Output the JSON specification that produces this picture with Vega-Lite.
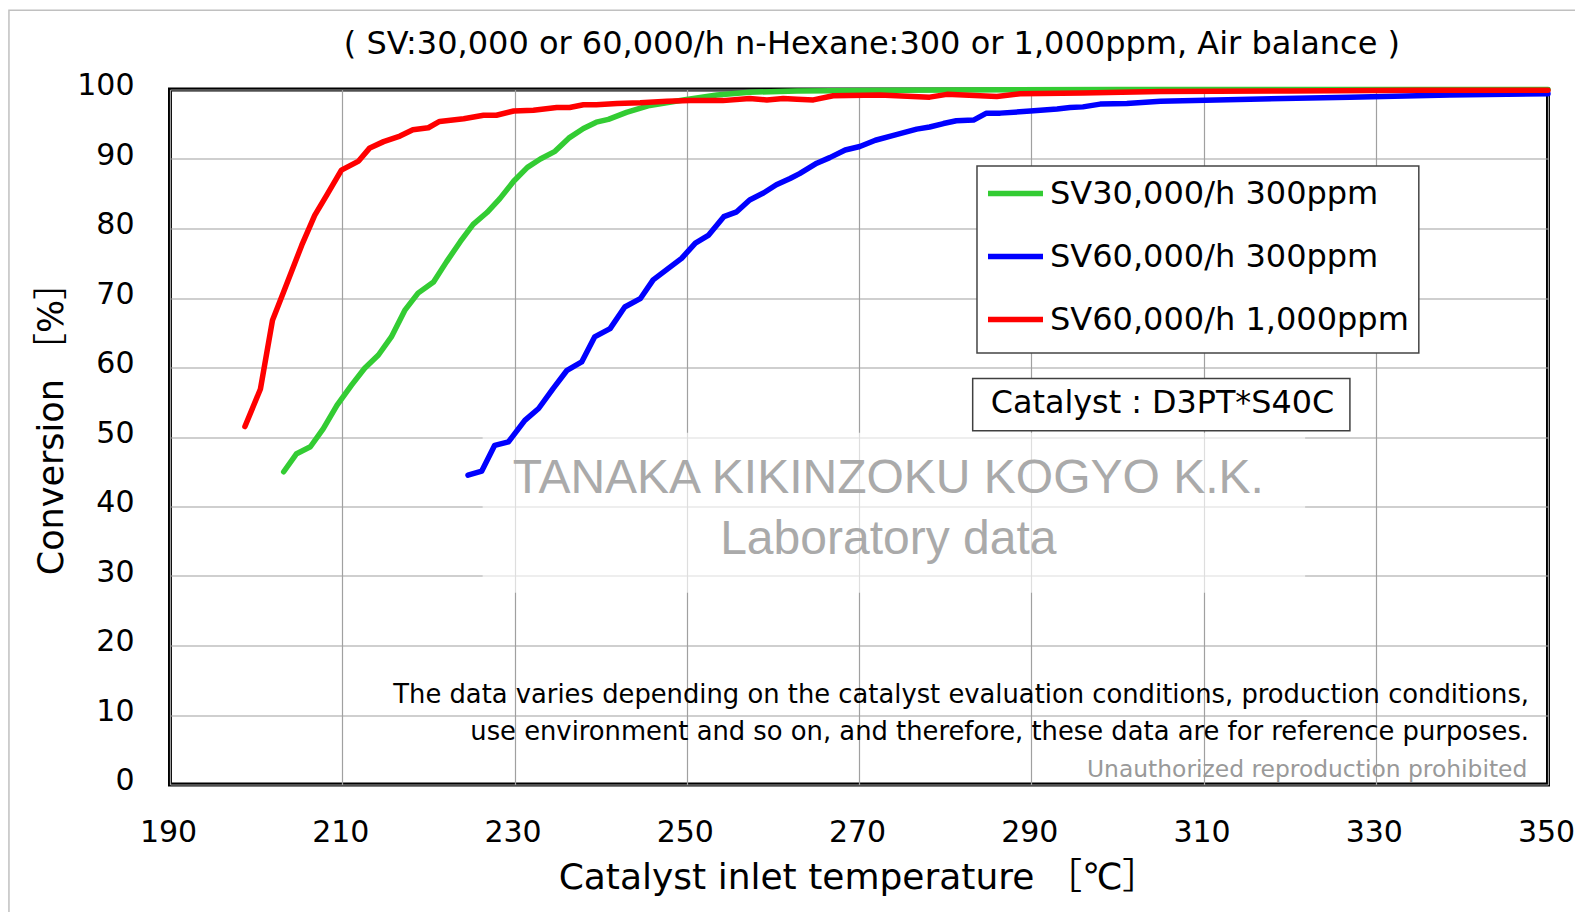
{
  "$schema": "https://vega.github.io/schema/vega-lite/v6.json",
  "width": 1378,
  "height": 695,
  "autosize": {"type": "none"},
  "padding": {"left": 170, "top": 89.5, "right": 27, "bottom": 127.5},
  "background": "white",
  "config": {
    "view": {"stroke": "black", "strokeWidth": 4},
    "font": "DejaVu Sans"
  },
  "datasets": {
    "curves": [
      {"series": "SV30,000/h 300ppm", "temperature": 203.2, "conversion": 45.0},
      {"series": "SV30,000/h 300ppm", "temperature": 204.7, "conversion": 47.6},
      {"series": "SV30,000/h 300ppm", "temperature": 206.3, "conversion": 48.6},
      {"series": "SV30,000/h 300ppm", "temperature": 207.8, "conversion": 51.2},
      {"series": "SV30,000/h 300ppm", "temperature": 209.4, "conversion": 54.6},
      {"series": "SV30,000/h 300ppm", "temperature": 211.1, "conversion": 57.5},
      {"series": "SV30,000/h 300ppm", "temperature": 212.6, "conversion": 59.9},
      {"series": "SV30,000/h 300ppm", "temperature": 214.2, "conversion": 61.8},
      {"series": "SV30,000/h 300ppm", "temperature": 215.7, "conversion": 64.4},
      {"series": "SV30,000/h 300ppm", "temperature": 217.3, "conversion": 68.3},
      {"series": "SV30,000/h 300ppm", "temperature": 218.8, "conversion": 70.7},
      {"series": "SV30,000/h 300ppm", "temperature": 220.6, "conversion": 72.3},
      {"series": "SV30,000/h 300ppm", "temperature": 222.1, "conversion": 75.2},
      {"series": "SV30,000/h 300ppm", "temperature": 223.7, "conversion": 78.1},
      {"series": "SV30,000/h 300ppm", "temperature": 225.2, "conversion": 80.6},
      {"series": "SV30,000/h 300ppm", "temperature": 226.8, "conversion": 82.3},
      {"series": "SV30,000/h 300ppm", "temperature": 228.3, "conversion": 84.3},
      {"series": "SV30,000/h 300ppm", "temperature": 229.9, "conversion": 86.8},
      {"series": "SV30,000/h 300ppm", "temperature": 231.5, "conversion": 88.8},
      {"series": "SV30,000/h 300ppm", "temperature": 233.0, "conversion": 90.0},
      {"series": "SV30,000/h 300ppm", "temperature": 234.7, "conversion": 91.1},
      {"series": "SV30,000/h 300ppm", "temperature": 236.3, "conversion": 93.0},
      {"series": "SV30,000/h 300ppm", "temperature": 238.0, "conversion": 94.4},
      {"series": "SV30,000/h 300ppm", "temperature": 239.5, "conversion": 95.3},
      {"series": "SV30,000/h 300ppm", "temperature": 240.9, "conversion": 95.7},
      {"series": "SV30,000/h 300ppm", "temperature": 243.0, "conversion": 96.7},
      {"series": "SV30,000/h 300ppm", "temperature": 245.7, "conversion": 97.7},
      {"series": "SV30,000/h 300ppm", "temperature": 249.6, "conversion": 98.5},
      {"series": "SV30,000/h 300ppm", "temperature": 253.5, "conversion": 99.2},
      {"series": "SV30,000/h 300ppm", "temperature": 257.3, "conversion": 99.6},
      {"series": "SV30,000/h 300ppm", "temperature": 262.8, "conversion": 99.8},
      {"series": "SV30,000/h 300ppm", "temperature": 275.0, "conversion": 99.9},
      {"series": "SV30,000/h 300ppm", "temperature": 300.0, "conversion": 100.0},
      {"series": "SV30,000/h 300ppm", "temperature": 350.0, "conversion": 100.0},
      {"series": "SV60,000/h 300ppm", "temperature": 224.6, "conversion": 44.5},
      {"series": "SV60,000/h 300ppm", "temperature": 226.2, "conversion": 45.1},
      {"series": "SV60,000/h 300ppm", "temperature": 227.7, "conversion": 48.8},
      {"series": "SV60,000/h 300ppm", "temperature": 229.3, "conversion": 49.3},
      {"series": "SV60,000/h 300ppm", "temperature": 231.2, "conversion": 52.4},
      {"series": "SV60,000/h 300ppm", "temperature": 232.8, "conversion": 54.1},
      {"series": "SV60,000/h 300ppm", "temperature": 234.5, "conversion": 57.0},
      {"series": "SV60,000/h 300ppm", "temperature": 236.1, "conversion": 59.6},
      {"series": "SV60,000/h 300ppm", "temperature": 237.8, "conversion": 60.8},
      {"series": "SV60,000/h 300ppm", "temperature": 239.3, "conversion": 64.4},
      {"series": "SV60,000/h 300ppm", "temperature": 241.1, "conversion": 65.6},
      {"series": "SV60,000/h 300ppm", "temperature": 242.8, "conversion": 68.7},
      {"series": "SV60,000/h 300ppm", "temperature": 244.6, "conversion": 69.9},
      {"series": "SV60,000/h 300ppm", "temperature": 246.1, "conversion": 72.6},
      {"series": "SV60,000/h 300ppm", "temperature": 247.9, "conversion": 74.3},
      {"series": "SV60,000/h 300ppm", "temperature": 249.4, "conversion": 75.7},
      {"series": "SV60,000/h 300ppm", "temperature": 251.0, "conversion": 77.9},
      {"series": "SV60,000/h 300ppm", "temperature": 252.5, "conversion": 79.0},
      {"series": "SV60,000/h 300ppm", "temperature": 254.3, "conversion": 81.7},
      {"series": "SV60,000/h 300ppm", "temperature": 255.8, "conversion": 82.4},
      {"series": "SV60,000/h 300ppm", "temperature": 257.3, "conversion": 84.1},
      {"series": "SV60,000/h 300ppm", "temperature": 258.9, "conversion": 85.1},
      {"series": "SV60,000/h 300ppm", "temperature": 260.4, "conversion": 86.3},
      {"series": "SV60,000/h 300ppm", "temperature": 262.0, "conversion": 87.2},
      {"series": "SV60,000/h 300ppm", "temperature": 263.1, "conversion": 87.9},
      {"series": "SV60,000/h 300ppm", "temperature": 265.1, "conversion": 89.4},
      {"series": "SV60,000/h 300ppm", "temperature": 266.6, "conversion": 90.2},
      {"series": "SV60,000/h 300ppm", "temperature": 268.4, "conversion": 91.3},
      {"series": "SV60,000/h 300ppm", "temperature": 270.1, "conversion": 91.8},
      {"series": "SV60,000/h 300ppm", "temperature": 271.9, "conversion": 92.7},
      {"series": "SV60,000/h 300ppm", "temperature": 274.0, "conversion": 93.4},
      {"series": "SV60,000/h 300ppm", "temperature": 276.7, "conversion": 94.3},
      {"series": "SV60,000/h 300ppm", "temperature": 278.2, "conversion": 94.6},
      {"series": "SV60,000/h 300ppm", "temperature": 279.8, "conversion": 95.1},
      {"series": "SV60,000/h 300ppm", "temperature": 281.3, "conversion": 95.5},
      {"series": "SV60,000/h 300ppm", "temperature": 283.3, "conversion": 95.6},
      {"series": "SV60,000/h 300ppm", "temperature": 284.8, "conversion": 96.6},
      {"series": "SV60,000/h 300ppm", "temperature": 286.4, "conversion": 96.6},
      {"series": "SV60,000/h 300ppm", "temperature": 289.9, "conversion": 96.9},
      {"series": "SV60,000/h 300ppm", "temperature": 293.0, "conversion": 97.2},
      {"series": "SV60,000/h 300ppm", "temperature": 294.5, "conversion": 97.4},
      {"series": "SV60,000/h 300ppm", "temperature": 296.0, "conversion": 97.5},
      {"series": "SV60,000/h 300ppm", "temperature": 298.0, "conversion": 97.9},
      {"series": "SV60,000/h 300ppm", "temperature": 301.1, "conversion": 98.0},
      {"series": "SV60,000/h 300ppm", "temperature": 305.0, "conversion": 98.3},
      {"series": "SV60,000/h 300ppm", "temperature": 315.4, "conversion": 98.6},
      {"series": "SV60,000/h 300ppm", "temperature": 327.0, "conversion": 98.9},
      {"series": "SV60,000/h 300ppm", "temperature": 338.6, "conversion": 99.2},
      {"series": "SV60,000/h 300ppm", "temperature": 350.0, "conversion": 99.4},
      {"series": "SV60,000/h 1,000ppm", "temperature": 198.7, "conversion": 51.5},
      {"series": "SV60,000/h 1,000ppm", "temperature": 200.5, "conversion": 56.9},
      {"series": "SV60,000/h 1,000ppm", "temperature": 201.9, "conversion": 66.8},
      {"series": "SV60,000/h 1,000ppm", "temperature": 203.2, "conversion": 70.9},
      {"series": "SV60,000/h 1,000ppm", "temperature": 205.3, "conversion": 77.6},
      {"series": "SV60,000/h 1,000ppm", "temperature": 206.8, "conversion": 81.9},
      {"series": "SV60,000/h 1,000ppm", "temperature": 208.2, "conversion": 84.8},
      {"series": "SV60,000/h 1,000ppm", "temperature": 209.9, "conversion": 88.4},
      {"series": "SV60,000/h 1,000ppm", "temperature": 211.9, "conversion": 89.7},
      {"series": "SV60,000/h 1,000ppm", "temperature": 213.2, "conversion": 91.6},
      {"series": "SV60,000/h 1,000ppm", "temperature": 214.8, "conversion": 92.5},
      {"series": "SV60,000/h 1,000ppm", "temperature": 216.7, "conversion": 93.3},
      {"series": "SV60,000/h 1,000ppm", "temperature": 218.2, "conversion": 94.2},
      {"series": "SV60,000/h 1,000ppm", "temperature": 220.0, "conversion": 94.5},
      {"series": "SV60,000/h 1,000ppm", "temperature": 221.3, "conversion": 95.4},
      {"series": "SV60,000/h 1,000ppm", "temperature": 224.1, "conversion": 95.8},
      {"series": "SV60,000/h 1,000ppm", "temperature": 226.4, "conversion": 96.3},
      {"series": "SV60,000/h 1,000ppm", "temperature": 227.9, "conversion": 96.3},
      {"series": "SV60,000/h 1,000ppm", "temperature": 229.9, "conversion": 96.9},
      {"series": "SV60,000/h 1,000ppm", "temperature": 232.2, "conversion": 97.0},
      {"series": "SV60,000/h 1,000ppm", "temperature": 234.9, "conversion": 97.4},
      {"series": "SV60,000/h 1,000ppm", "temperature": 236.4, "conversion": 97.4},
      {"series": "SV60,000/h 1,000ppm", "temperature": 238.0, "conversion": 97.8},
      {"series": "SV60,000/h 1,000ppm", "temperature": 239.5, "conversion": 97.8},
      {"series": "SV60,000/h 1,000ppm", "temperature": 241.9, "conversion": 98.0},
      {"series": "SV60,000/h 1,000ppm", "temperature": 244.6, "conversion": 98.1},
      {"series": "SV60,000/h 1,000ppm", "temperature": 247.7, "conversion": 98.3},
      {"series": "SV60,000/h 1,000ppm", "temperature": 250.4, "conversion": 98.4},
      {"series": "SV60,000/h 1,000ppm", "temperature": 254.2, "conversion": 98.4},
      {"series": "SV60,000/h 1,000ppm", "temperature": 257.3, "conversion": 98.7},
      {"series": "SV60,000/h 1,000ppm", "temperature": 259.3, "conversion": 98.5},
      {"series": "SV60,000/h 1,000ppm", "temperature": 261.2, "conversion": 98.7},
      {"series": "SV60,000/h 1,000ppm", "temperature": 262.8, "conversion": 98.6},
      {"series": "SV60,000/h 1,000ppm", "temperature": 264.7, "conversion": 98.5},
      {"series": "SV60,000/h 1,000ppm", "temperature": 267.0, "conversion": 99.1},
      {"series": "SV60,000/h 1,000ppm", "temperature": 272.4, "conversion": 99.2},
      {"series": "SV60,000/h 1,000ppm", "temperature": 278.2, "conversion": 98.9},
      {"series": "SV60,000/h 1,000ppm", "temperature": 280.2, "conversion": 99.3},
      {"series": "SV60,000/h 1,000ppm", "temperature": 286.0, "conversion": 99.0},
      {"series": "SV60,000/h 1,000ppm", "temperature": 288.7, "conversion": 99.4},
      {"series": "SV60,000/h 1,000ppm", "temperature": 296.0, "conversion": 99.5},
      {"series": "SV60,000/h 1,000ppm", "temperature": 305.0, "conversion": 99.7},
      {"series": "SV60,000/h 1,000ppm", "temperature": 320.0, "conversion": 99.8},
      {"series": "SV60,000/h 1,000ppm", "temperature": 335.0, "conversion": 99.9},
      {"series": "SV60,000/h 1,000ppm", "temperature": 350.0, "conversion": 99.9}
    ]
  },
  "layer": [
    {
      "data": {"values": [{}]},
      "mark": {"type": "rect", "fill": "white", "opacity": 0.65},
      "encoding": {
        "x": {"datum": 226.3, "type": "quantitative"},
        "x2": {"datum": 321.8},
        "y": {"datum": 50.6, "type": "quantitative"},
        "y2": {"datum": 27.6}
      }
    },
    {
      "data": {"name": "curves"},
      "mark": {"type": "line", "strokeWidth": 5.5, "strokeCap": "round", "strokeJoin": "round"},
      "encoding": {
        "x": {
          "field": "temperature",
          "type": "quantitative",
          "scale": {"domain": [190, 350], "nice": false, "zero": false},
          "axis": {
            "title": "Catalyst inlet temperature ［℃］",
            "values": [190, 210, 230, 250, 270, 290, 310, 330, 350],
            "labelFont": "DejaVu Sans",
            "labelFontSize": 30,
            "labelColor": "black",
            "labelPadding": 33,
            "labelOffset": -2,
            "labelFlush": false,
            "ticks": false,
            "domain": false,
            "grid": true,
            "gridColor": "#a0a0a0",
            "gridWidth": 1.2,
            "titleFont": "DejaVu Sans, Noto Sans CJK JP",
            "titleFontSize": 36,
            "titleFontWeight": "normal",
            "titleColor": "black",
            "titlePadding": 13,
            "titleX": 688
          }
        },
        "y": {
          "field": "conversion",
          "type": "quantitative",
          "scale": {"domain": [0, 100], "nice": false},
          "axis": {
            "title": "Conversion ［%］",
            "values": [0, 10, 20, 30, 40, 50, 60, 70, 80, 90, 100],
            "labelFont": "DejaVu Sans",
            "labelFontSize": 30,
            "labelColor": "black",
            "labelPadding": 36,
            "labelOffset": -4,
            "labelFlush": false,
            "ticks": false,
            "domain": false,
            "grid": true,
            "gridColor": "#a0a0a0",
            "gridWidth": 1.2,
            "titleFont": "DejaVu Sans, Noto Sans CJK JP",
            "titleFontSize": 35,
            "titleFontWeight": "normal",
            "titleColor": "black",
            "titlePadding": 7,
            "titleY": 330
          }
        },
        "color": {
          "field": "series",
          "type": "nominal",
          "sort": null,
          "scale": {
            "domain": ["SV30,000/h 300ppm", "SV60,000/h 300ppm", "SV60,000/h 1,000ppm"],
            "range": ["#33cc33", "#0000ff", "#ff0000"]
          },
          "legend": {
            "title": null,
            "orient": "none",
            "legendX": 815,
            "legendY": 73.5,
            "direction": "vertical",
            "symbolType": "M-1,0H1",
            "symbolSize": 3025,
            "symbolStrokeWidth": 5.5,
            "labelFont": "DejaVu Sans",
            "labelFontSize": 32,
            "labelColor": "black",
            "labelLimit": 600,
            "labelOffset": 4,
            "rowPadding": 16,
            "padding": 0
          }
        }
      }
    },
    {
      "data": {"values": [{}]},
      "mark": {"type": "rect", "fill": "white", "stroke": "#444444", "strokeWidth": 1.5},
      "encoding": {
        "x": {"datum": 283.7, "type": "quantitative"},
        "x2": {"datum": 335.0},
        "y": {"datum": 89.0, "type": "quantitative"},
        "y2": {"datum": 62.1}
      }
    },
    {
      "data": {"values": [{}]},
      "mark": {"type": "rect", "fill": "white", "stroke": "#404040", "strokeWidth": 1.5},
      "encoding": {
        "x": {"datum": 283.2, "type": "quantitative"},
        "x2": {"datum": 327.0},
        "y": {"datum": 58.4, "type": "quantitative"},
        "y2": {"datum": 50.9}
      }
    },
    {
      "data": {"values": [{"label": "Catalyst : D3PT*S40C"}]},
      "mark": {"type": "text", "align": "left", "baseline": "middle", "font": "DejaVu Sans", "fontSize": 31.8, "color": "black"},
      "encoding": {
        "x": {"datum": 285.3, "type": "quantitative"},
        "y": {"datum": 54.9, "type": "quantitative"},
        "text": {"field": "label"}
      }
    },
    {
      "data": {"values": [{"label": "TANAKA KIKINZOKU KOGYO K.K."}]},
      "mark": {"type": "text", "align": "center", "baseline": "middle", "font": "Liberation Sans", "fontSize": 48, "color": "#aaaaaa"},
      "encoding": {
        "x": {"datum": 273.4, "type": "quantitative"},
        "y": {"datum": 43.9, "type": "quantitative"},
        "text": {"field": "label"}
      }
    },
    {
      "data": {"values": [{"label": "Laboratory data"}]},
      "mark": {"type": "text", "align": "center", "baseline": "middle", "font": "Liberation Sans", "fontSize": 48, "color": "#aaaaaa"},
      "encoding": {
        "x": {"datum": 273.4, "type": "quantitative"},
        "y": {"datum": 35.2, "type": "quantitative"},
        "text": {"field": "label"}
      }
    },
    {
      "data": {"values": [{"label": "The data varies depending on the catalyst evaluation conditions, production conditions,"}]},
      "mark": {"type": "text", "align": "right", "baseline": "middle", "font": "DejaVu Sans", "fontSize": 25.8, "color": "black"},
      "encoding": {
        "x": {"datum": 347.8, "type": "quantitative"},
        "y": {"datum": 12.9, "type": "quantitative"},
        "text": {"field": "label"}
      }
    },
    {
      "data": {"values": [{"label": "use environment and so on, and therefore, these data are for reference purposes."}]},
      "mark": {"type": "text", "align": "right", "baseline": "middle", "font": "DejaVu Sans", "fontSize": 25.8, "color": "black"},
      "encoding": {
        "x": {"datum": 347.8, "type": "quantitative"},
        "y": {"datum": 7.55, "type": "quantitative"},
        "text": {"field": "label"}
      }
    },
    {
      "data": {"values": [{"label": "Unauthorized reproduction prohibited"}]},
      "mark": {"type": "text", "align": "right", "baseline": "middle", "font": "DejaVu Sans", "fontSize": 23.4, "color": "#999999"},
      "encoding": {
        "x": {"datum": 347.6, "type": "quantitative"},
        "y": {"datum": 2.07, "type": "quantitative"},
        "text": {"field": "label"}
      }
    },
    {
      "data": {"values": [{"label": "( SV:30,000 or 60,000/h n-Hexane:300 or 1,000ppm, Air balance )"}]},
      "mark": {"type": "text", "align": "center", "baseline": "middle", "font": "DejaVu Sans", "fontSize": 32, "color": "black", "clip": false},
      "encoding": {
        "x": {"datum": 271.5, "type": "quantitative"},
        "y": {"datum": 106.5, "type": "quantitative"},
        "text": {"field": "label"}
      }
    },
    {
      "data": {"values": [{}]},
      "mark": {"type": "rect", "fill": null, "stroke": "#c0c0c0", "strokeWidth": 1.5, "clip": false},
      "encoding": {
        "x": {"datum": 171.3, "type": "quantitative"},
        "x2": {"datum": 360},
        "y": {"datum": 111.4, "type": "quantitative"},
        "y2": {"datum": -30}
      }
    }
  ]
}
